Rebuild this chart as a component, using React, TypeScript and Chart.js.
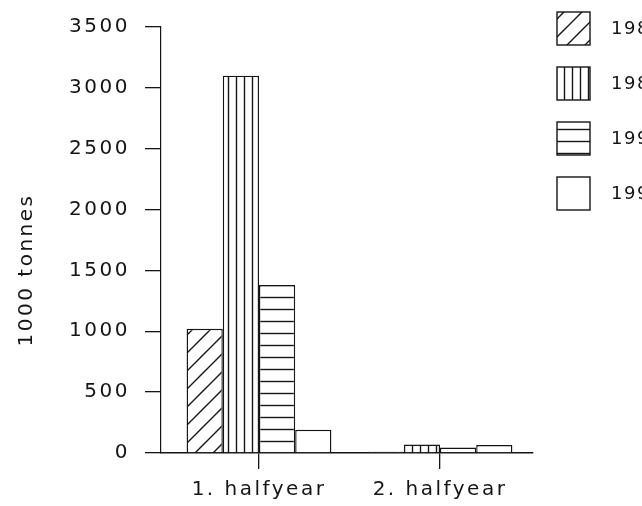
import React, { useEffect, useRef } from 'react';
import { Chart, registerables } from 'chart.js';

Chart.register(...registerables);

// ---- data ----
const categories = ['1. halfyear', '2. halfyear'];
const seriesLabels = ['1988', '1989', '1990', '1991'];
const series1988 = [1020, 10];
const series1989 = [3100, 70];
const series1990 = [1380, 45];
const series1991 = [190, 65];
const yTickStep = 500;
const yMax = 3500;
const yTitle = '1000 tonnes';

const INK = '#151515';
const FONT_FAMILY = '"DejaVu Sans", sans-serif';
const FONT_SIZE = 20;
const LETTER_SPACING = '2.5px';

type PatternKind = 'diag' | 'vert' | 'horiz' | 'none';
const patternKinds: PatternKind[] = ['diag', 'vert', 'horiz', 'none'];

function makePattern(ctx: CanvasRenderingContext2D, kind: PatternKind): CanvasPattern | string {
  if (kind === 'none') return '#ffffff';
  const c = document.createElement('canvas');
  let w = 12;
  let h = 12;
  if (kind === 'diag') { w = 18; h = 18; }
  if (kind === 'vert') { w = 8; h = 8; }
  if (kind === 'horiz') { w = 12; h = 12; }
  c.width = w;
  c.height = h;
  const g = c.getContext('2d')!;
  g.fillStyle = '#ffffff';
  g.fillRect(0, 0, w, h);
  g.strokeStyle = INK;
  g.lineWidth = 1.4;
  g.beginPath();
  if (kind === 'diag') {
    g.moveTo(-1, h + 1);
    g.lineTo(w + 1, -1);
    g.moveTo(-2, 2);
    g.lineTo(2, -2);
    g.moveTo(w - 2, h + 2);
    g.lineTo(w + 2, h - 2);
  } else if (kind === 'vert') {
    g.moveTo(4.5, 0);
    g.lineTo(4.5, h);
  } else {
    g.moveTo(0, 9.5);
    g.lineTo(w, 9.5);
  }
  g.stroke();
  return ctx.createPattern(c, 'repeat')!;
}

const letterSpacingPlugin = {
  id: 'letterSpacing',
  beforeDraw(chart: any) {
    (chart.ctx as any).letterSpacing = LETTER_SPACING;
  },
};

const yTitlePlugin = {
  id: 'yTitle',
  afterDraw(chart: any) {
    const ctx = chart.ctx as CanvasRenderingContext2D;
    ctx.save();
    (ctx as any).letterSpacing = LETTER_SPACING;
    ctx.translate(27, 270);
    ctx.rotate(-Math.PI / 2);
    ctx.font = `${FONT_SIZE}px ${FONT_FAMILY}`;
    ctx.fillStyle = INK;
    ctx.textAlign = 'center';
    ctx.textBaseline = 'middle';
    ctx.fillText(yTitle, 0, 0);
    ctx.restore();
  },
};

const legendPlugin = {
  id: 'patternLegend',
  afterDraw(chart: any) {
    const ctx = chart.ctx as CanvasRenderingContext2D;
    ctx.save();
    (ctx as any).letterSpacing = '1.5px';
    ctx.font = `18px ${FONT_FAMILY}`;
    chart.data.datasets.forEach((ds: any, i: number) => {
      const x = 557;
      const y = 12 + 55 * i;
      const s = 33;
      ctx.fillStyle = ds.backgroundColor;
      ctx.fillRect(x, y, s, s);
      ctx.strokeStyle = INK;
      ctx.lineWidth = 1.4;
      ctx.strokeRect(x, y, s, s);
      ctx.fillStyle = INK;
      ctx.textAlign = 'left';
      ctx.textBaseline = 'middle';
      ctx.fillText(ds.label, 611, y + s / 2 + 1);
    });
    ctx.restore();
  },
};

export default function App() {
  const ref = useRef<HTMLCanvasElement | null>(null);

  useEffect(() => {
    const canvas = ref.current;
    if (!canvas) return;
    const ctx = canvas.getContext('2d')!;
    const allSeries = [series1988, series1989, series1990, series1991];

    const chart = new Chart(canvas, {
      type: 'bar',
      data: {
        datasets: allSeries.map((vals, i) => ({
          label: seriesLabels[i],
          data: vals.map((v, j) => ({ x: j + 1, y: v })),
          backgroundColor: makePattern(ctx, patternKinds[i]) as any,
          borderColor: INK,
          borderWidth: 1.4,
          categoryPercentage: 0.8,
          barPercentage: 1,
        })),
      },
      options: {
        animation: false,
        responsive: false,
        maintainAspectRatio: false,
        events: [],
        layout: { padding: { left: 0, right: 109, top: 19, bottom: 0 } },
        plugins: {
          legend: { display: false },
          tooltip: { enabled: false },
          title: { display: false },
        },
        scales: {
          x: {
            type: 'linear',
            min: 0.4586,
            max: 2.5138,
            offset: false,
            afterBuildTicks: (s: any) => {
              s.ticks = categories.map((_, i) => ({ value: i + 1 }));
            },
            afterFit: (s: any) => {
              s.height = 53;
            },
            ticks: {
              callback: (v: any) => categories[Math.round(Number(v)) - 1] ?? '',
              font: { family: FONT_FAMILY, size: FONT_SIZE },
              color: INK,
              padding: 9,
              maxRotation: 0,
              autoSkip: false,
            },
            grid: {
              offset: false,
              drawOnChartArea: false,
              drawTicks: true,
              tickLength: 16,
              color: INK,
              lineWidth: 1.3,
            },
            border: { display: true, color: INK, width: 1.4 },
          },
          y: {
            min: 0,
            max: yMax,
            afterFit: (s: any) => {
              s.width = 161;
            },
            ticks: {
              stepSize: yTickStep,
              callback: (v: any) => String(v),
              font: { family: FONT_FAMILY, size: FONT_SIZE },
              color: INK,
              padding: 15,
            },
            grid: {
              drawOnChartArea: false,
              drawTicks: true,
              tickLength: 16,
              color: INK,
              lineWidth: 1.3,
            },
            border: { display: true, color: INK, width: 1.2 },
          },
        },
      },
      plugins: [letterSpacingPlugin, yTitlePlugin, legendPlugin],
    });

    return () => chart.destroy();
  }, []);

  return (
    <div style={{ position: 'fixed', left: 0, top: 0, width: 642, height: 506, background: '#ffffff' }}>
      <canvas ref={ref} width={642} height={506} style={{ display: 'block', width: 642, height: 506 }} />
    </div>
  );
}
